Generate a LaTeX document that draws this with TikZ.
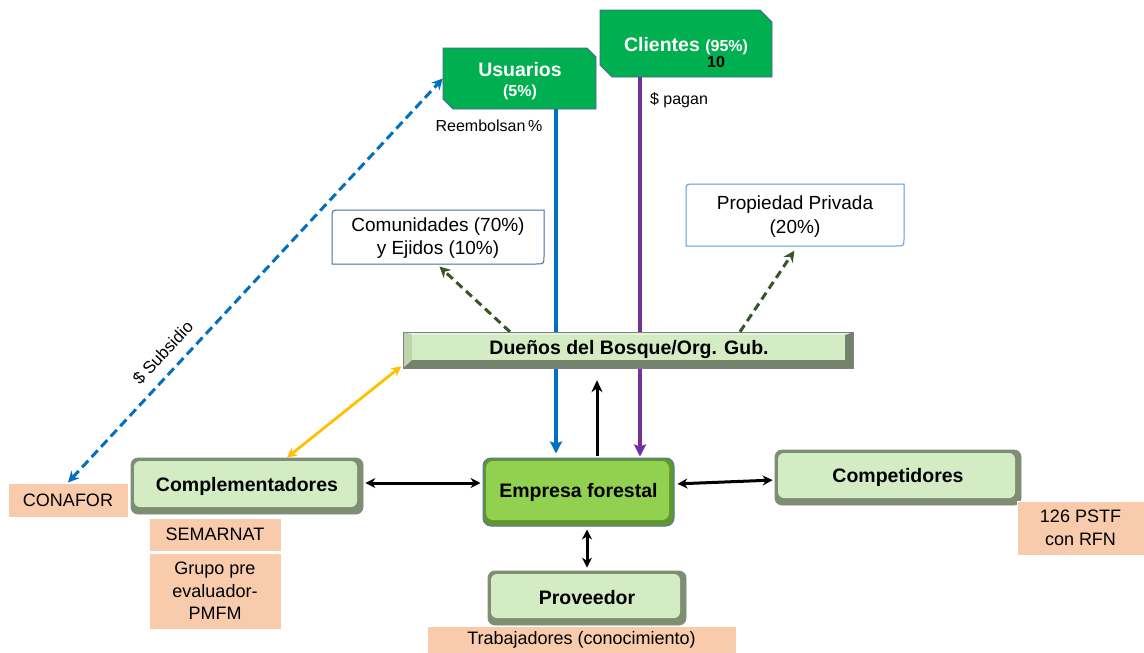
\documentclass[tikz,border=0pt]{standalone}
\usepackage{fontspec}
\setmainfont{Liberation Sans}
\usetikzlibrary{arrows.meta,calc}
\definecolor{face}{RGB}{211,236,196}
\definecolor{shadeg}{RGB}{125,142,115}
\definecolor{bevline}{RGB}{130,140,125}
\definecolor{empface}{RGB}{146,208,80}
\definecolor{empshade}{RGB}{98,150,45}
\definecolor{empline}{RGB}{80,120,170}
\definecolor{peach}{RGB}{248,203,173}
\definecolor{gfill}{RGB}{0,176,80}
\definecolor{snipline}{RGB}{70,100,150}
\definecolor{bluel}{RGB}{0,112,192}
\definecolor{purp}{RGB}{112,48,160}
\definecolor{dgreen}{RGB}{55,86,35}
\definecolor{gold}{RGB}{255,192,0}
\definecolor{comline}{RGB}{65,113,156}
\definecolor{propline}{RGB}{91,155,213}
\definecolor{barout}{RGB}{115,130,107}
\definecolor{bartop}{RGB}{228,243,220}
\definecolor{barleft}{RGB}{188,213,173}
\definecolor{barface}{RGB}{211,236,196}
\newcommand\mybf{\fontsize{19.5}{22}\selectfont\bfseries}
\begin{document}
\begin{tikzpicture}[x=1pt,y=-1pt,
  bev/.style={draw=bevline, line width=0.8pt, fill=shadeg, rounded corners=7pt,
    path picture={\fill[face, rounded corners=6pt] ([xshift=3pt,yshift=-3pt]path picture bounding box.north west) rectangle ([xshift=-6pt,yshift=7pt]path picture bounding box.south east);},
    font=\mybf, inner sep=0pt},
  bevE/.style={draw=empline, line width=1pt, fill=empshade, rounded corners=8pt,
    path picture={\fill[empface, rounded corners=7pt] ([xshift=3pt,yshift=-3pt]path picture bounding box.north west) rectangle ([xshift=-5pt,yshift=6pt]path picture bounding box.south east);},
    font=\mybf, inner sep=0pt},
  pch/.style={fill=peach, draw=white, line width=1pt, align=center, inner sep=0pt,
    font=\fontsize{18}{22.5}\selectfont},
  blk/.style={line width=3pt, {Stealth[length=10pt,width=10pt]}-{Stealth[length=10pt,width=10pt]}},
  lbl/.style={inner sep=0pt, font=\fontsize{16}{18}\selectfont}
]
\useasboundingbox (0,0) rectangle (1144,653);
\fill[white] (0,0) rectangle (1144,653);

% top green snipped shapes
\filldraw[fill=gfill, draw=snipline, line width=0.8pt] (443,48) -- (587,48) -- (596,57) -- (596,109) -- (453,109) -- (443,99) -- cycle;
\node[minimum width=153pt, minimum height=61pt, inner sep=0pt] (usu) at (519.5,78.5) {};
\node[text=white, font=\mybf, inner sep=0pt] (usut) at (520,70) {Usuarios};
\node[text=white, font=\fontsize{16}{18}\selectfont\bfseries, inner sep=0pt] (usup) at (520,92) {(5\%)};

\filldraw[fill=gfill, draw=snipline, line width=0.8pt] (600,10) -- (760,10) -- (772,22) -- (772,77) -- (612,77) -- (600,65) -- cycle;
\node[minimum width=172pt, minimum height=67pt, inner sep=0pt] (cli) at (686,43.5) {};
\node[text=white, font=\mybf, inner sep=0pt, anchor=base] (clit) at (686,51) {Clientes {\fontsize{16}{18}\selectfont(95\%)}};
\node[text=black, font=\fontsize{16}{18}\selectfont\bfseries, inner sep=0pt] (clin) at (716,62) {10};

\node[lbl] (reemb) at (489,126) {Reembolsan\,\%};
\node[lbl] (pagan) at (679,100) {\$ pagan};

% owner boxes
\draw[draw=comline, fill=white, line width=1pt] (332,264) -- (332,218) .. controls (332,210) .. (340,210) -- (544,210) -- (544,256) .. controls (544,264) .. (536,264) -- cycle;
\node[align=center, inner sep=0pt, minimum width=212pt, minimum height=54pt, font=\fontsize{19}{23}\selectfont] (com) at (438,238) {Comunidades (70\%)\\y Ejidos (10\%)};
\draw[draw=propline, fill=white, line width=1pt] (686,246) -- (686,192) .. controls (686,184) .. (694,184) -- (904,184) -- (904,238) .. controls (904,246) .. (896,246) -- cycle;
\node[align=center, inner sep=0pt, minimum width=218pt, minimum height=62pt, font=\fontsize{19}{24}\selectfont] (prop) at (795,217) {Propiedad Privada\\(20\%)};

% main boxes
\node[bevE, minimum width=191pt, minimum height=68pt] (emp) at (578.5,492) {Empresa forestal};
\node[bev, minimum width=232pt, minimum height=56pt] (comp) at (247,486) {Complementadores};
\node[bev, minimum width=246pt, minimum height=55pt] (cpt) at (898,477.5) {Competidores};
\node[bev, minimum width=198pt, minimum height=54pt] (prov) at (587,598) {Proveedor};

% long vertical flows
\coordinate (bx) at (556,0);
\coordinate (px) at (640,0);
\draw[bluel, line width=3.2pt, -{Stealth[length=12pt,width=12pt,inset=2pt]}, shorten >=4pt] (usu.south -| bx) -- (emp.north -| bx);
\draw[purp, line width=3.2pt, -{Stealth[length=12pt,width=12pt,inset=2pt]}, shorten >=1pt] (cli.south -| px) -- (emp.north -| px);

% Duenos bar
\node[minimum width=450pt, minimum height=36pt, inner sep=0pt] (due) at (628.5,350) {};
\fill[barout] (403,332) rectangle (853,368);
\fill[bartop] (403,332) -- (853,332) -- (845,335) -- (412,335) -- cycle;
\fill[barleft] (403,332) -- (412,335) -- (412,360) -- (403,368) -- cycle;
\fill[barface] (412,335) rectangle (845,360);
\draw[gray, line width=1pt] (403,332) rectangle (853,368);
\node[font=\mybf, inner sep=0pt] (duet) at (629,349) {Dueños del Bosque/Org. Gub.};

% dashed owner arrows
\coordinate (g1) at (510,0);
\coordinate (g2) at (740,0);
\coordinate (c1) at (438,0);
\coordinate (c2) at (796,0);
\draw[dgreen, line width=3pt, dash pattern=on 8pt off 5pt, -{Stealth[length=11pt,width=11pt]}, shorten >=2pt] (due.north -| g1) -- (com.south -| c1);
\draw[dgreen, line width=3pt, dash pattern=on 8pt off 5pt, -{Stealth[length=11pt,width=11pt]}, shorten >=3pt] (due.north -| g2) -- (prop.south -| c2);

% peach labels
\node[pch, minimum width=120pt, minimum height=34pt] (con) at (68,500) {CONAFOR};
\node[pch, minimum width=132pt, minimum height=33pt] (sem) at (215,534.5) {SEMARNAT};
\node[pch, minimum width=132pt, minimum height=76pt] (grp) at (215,591) {Grupo pre\\evaluador-\\PMFM};
\node[pch, minimum width=127pt, minimum height=54pt] (pstf) at (1080.5,528) {126 PSTF\\con RFN};
\node[pch, minimum width=309pt, minimum height=27pt] (trab) at (581.5,639.5) {Trabajadores (conocimiento)};

% subsidy
\draw[bluel, line width=3pt, dash pattern=on 9pt off 5pt, {Stealth[length=11pt,width=11pt]}-{Stealth[length=11pt,width=11pt]}] (con.north) -- (usu.west);
\node[inner sep=0pt, font=\fontsize{17}{19}\selectfont, rotate=47] (sub) at (163,353) {\$ Subsidio};

% gold
\coordinate (yx) at (287,0);
\draw[gold, line width=2.8pt, {Stealth[length=10pt,width=10pt]}-{Stealth[length=10pt,width=10pt]}] ($(due.south west)+(-2,-2)$) -- (comp.north -| yx);

% black arrows
\coordinate (ux) at (597,0);
\draw[line width=3pt, -{Stealth[length=12pt,width=11pt]}, shorten >=12pt, shorten <=2pt] (emp.north -| ux) -- (due.south -| ux);
\draw[blk, shorten <=2pt, shorten >=2pt] ($(comp.east)+(0,-3)$) -- ($(emp.west)+(0,-9)$);
\draw[blk, shorten <=3pt, shorten >=2pt] ($(emp.east)+(0,-8)$) -- ($(cpt.west)+(0,2.5)$);
\coordinate (vx) at (587,0);
\draw[blk, shorten <=3pt, shorten >=3pt] (emp.south -| vx) -- (prov.north -| vx);
\end{tikzpicture}
\end{document}
